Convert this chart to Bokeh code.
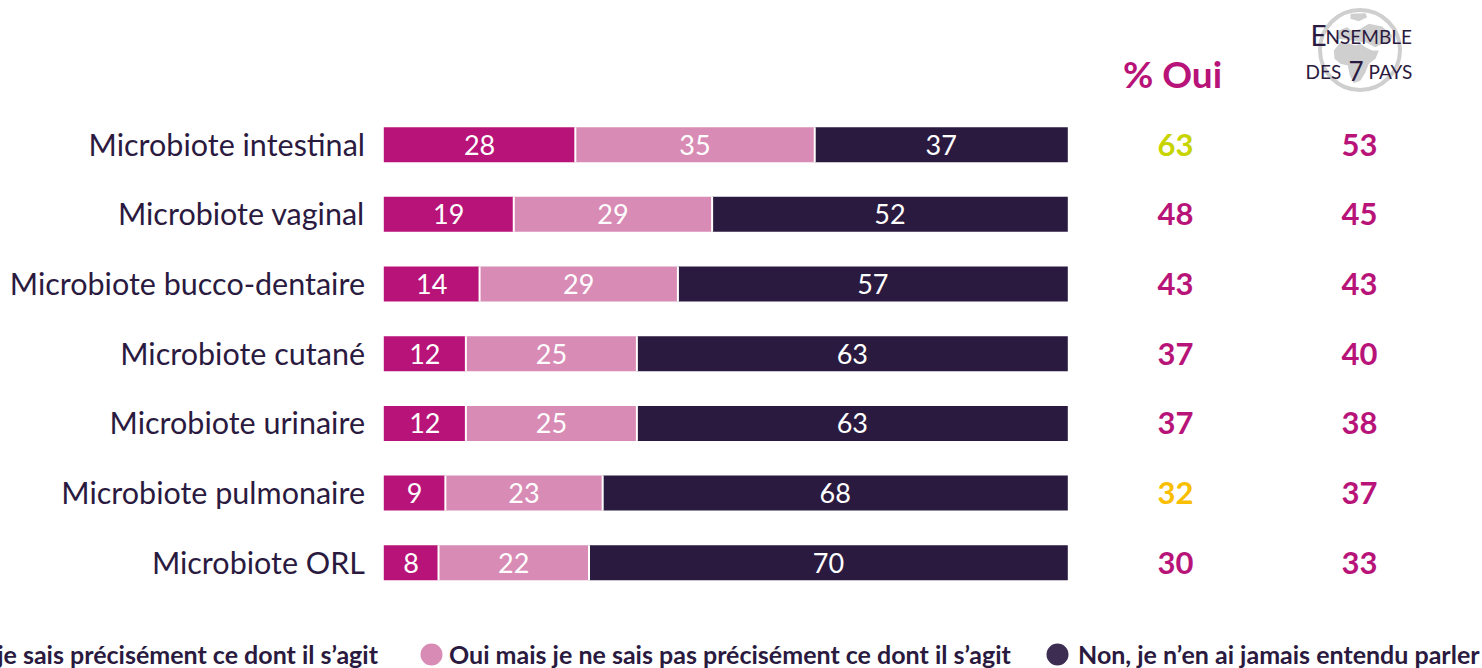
from bokeh.plotting import figure
from bokeh.models import Range1d, Label, Legend, LegendItem, ColumnDataSource
from bokeh.core.properties import value
from bokeh.embed import file_html
from bokeh.resources import INLINE

categories = ["Microbiote intestinal", "Microbiote vaginal", "Microbiote bucco-dentaire",
              "Microbiote cutané", "Microbiote urinaire", "Microbiote pulmonaire", "Microbiote ORL"]
oui_precis = [28, 19, 14, 12, 12, 9, 8]
oui_vague = [35, 29, 29, 25, 25, 23, 22]
non = [37, 52, 57, 63, 63, 68, 70]
pct_oui = [63, 48, 43, 37, 37, 32, 30]
ensemble = [53, 45, 43, 40, 38, 37, 33]
legend_labels = ["Oui et je sais précisément ce dont il s’agit",
                 "Oui mais je ne sais pas précisément ce dont il s’agit",
                 "Non, je n’en ai jamais entendu parler"]

MAGENTA, PINK, DARK, DARKDOT = "#B81378", "#D88BB5", "#2B1A40", "#3E2D52"
LIME, AMBER, GREY = "#C8D400", "#F9BE00", "#CFCFCF"
FONT = "Lato"
pct_colors = [LIME, MAGENTA, MAGENTA, MAGENTA, MAGENTA, AMBER, MAGENTA]

W, H = 1482, 668
LEFT = 383.3
PXU = 6.84
ROW = 69.67
Y0 = 144.2
p = figure(width=W, height=H, output_backend="svg", toolbar_location=None,
           x_range=Range1d(-LEFT / PXU, (W - LEFT) / PXU),
           y_range=Range1d((H - Y0) / ROW, -Y0 / ROW),
           min_border_left=0, min_border_right=0, min_border_top=0, min_border_bottom=0,
           outline_line_color=None, background_fill_color="white",
           border_fill_color=None)
p.grid.visible = False
p.axis.visible = False
rows = list(range(len(categories)))

def sx(px):
    return (px - LEFT) / PXU

def sy(py):
    return (py - Y0) / ROW

# globe behind the column heading
land = [
    [(70, 150), (90, 125), (115, 128), (135, 135), (150, 130), (165, 140), (185, 150), (205, 150), (195, 175), (175, 190),
     (165, 215), (150, 240), (130, 248), (118, 225), (112, 195), (90, 190), (72, 175)],
    [(75, 115), (85, 90), (110, 80), (125, 92), (150, 85), (175, 70), (215, 78), (245, 105), (240, 125), (215, 130), (195, 140),
     (165, 125), (135, 122), (110, 118)],
    [(120, 40), (165, 38), (170, 50), (145, 62), (120, 55)],
]
p.patches(xs=[[sx(1310 + a / 3) for a, b in poly] for poly in land],
          ys=[[sy(b / 3) for a, b in poly] for poly in land],
          fill_color=GREY, line_color=None)
p.scatter(x=[sx(1359.5)], y=[sy(49.5)], size=80, marker="circle", fill_color=None,
          line_color=GREY, line_width=4)

src = ColumnDataSource(dict(row=rows, cat=categories, a=oui_precis, b=oui_vague, c=non,
                            ab=[x + y for x, y in zip(oui_precis, oui_vague)],
                            pct=[str(v) for v in pct_oui], ens=[str(v) for v in ensemble],
                            pc=pct_colors,
                            xa=[v / 2 for v in oui_precis],
                            xb=[x + y / 2 for x, y in zip(oui_precis, oui_vague)],
                            xc=[100 - v / 2 for v in non],
                            la=[str(v) for v in oui_precis], lb=[str(v) for v in oui_vague],
                            lc=[str(v) for v in non],
                            xl=[sx(364.5)] * 7, xp=[sx(1175)] * 7, xe=[sx(1359)] * 7))

BH = 35 / ROW
p.hbar(y="row", left=0, right="a", height=BH, color=MAGENTA, line_color=None, source=src)
p.hbar(y="row", left="a", right="ab", height=BH, color=PINK, line_color=None, source=src)
p.hbar(y="row", left="ab", right=100, height=BH, color=DARK, line_color=None, source=src)
for k in ("a", "ab"):
    p.rect(x=k, y="row", width=2 / PXU, height=BH, color="white", line_color=None, source=src)

p.text(x="xl", y="row", text="cat", source=src, text_color=DARK, text_align="right",
       text_baseline="middle", text_font=value(FONT), text_font_size="30.5px", y_offset=-1)
for xk, tk in (("xa", "la"), ("xb", "lb"), ("xc", "lc")):
    p.text(x=xk, y="row", text=tk, source=src, text_color="white", text_align="center",
           text_baseline="middle", text_font=value(FONT), text_font_size="27px")
p.text(x="xp", y="row", text="pct", source=src, text_color="pc", text_align="center",
       text_baseline="middle", text_font=value(FONT), text_font_size="31px", text_font_style="bold")
p.text(x="xe", y="row", text="ens", source=src, text_color=MAGENTA, text_align="center",
       text_baseline="middle", text_font=value(FONT), text_font_size="31px", text_font_style="bold")

def lab(x, y, text, size, color, align="left", style="normal"):
    p.add_layout(Label(x=x, y=H - y, x_units="screen", y_units="screen", text=text,
                       text_font=FONT, text_font_size=f"{size}px", text_color=color,
                       text_align=align, text_baseline="middle", text_font_style=style))

lab(1172, 73, "% Oui", 37, MAGENTA, "center", "bold")
lab(1310, 34, "E", 28, DARK)
lab(1325, 36, "NSEMBLE", 19, DARK)
lab(1305, 71, "DES", 19, DARK)
lab(1348, 70, "7", 26, DARK)
lab(1368, 71, "PAYS", 19, DARK)

# legend: one keyed entry each. The key is 0.4 * its box wide, the outline makes up the rest of the dot.
BOX = 30
spec = [(legend_labels[0], MAGENTA, -96, 18), (legend_labels[1], PINK, 431, 18), (legend_labels[2], DARKDOT, 1057, 21)]
for lbl, col, cx, gap in spec:
    r = p.scatter(x=[float("nan")], y=[0], size=22, fill_color=col, line_color=col, line_width=10)
    lg = Legend(items=[LegendItem(label=lbl, renderers=[r])], location=(cx - BOX / 2, H - 654 - BOX / 2),
                background_fill_alpha=0, border_line_color=None, padding=0, margin=0,
                glyph_width=BOX, glyph_height=BOX, label_standoff=int(gap - BOX / 2),
                label_height=24, label_text_font=FONT, label_text_font_size="25px",
                label_text_color=DARK, label_text_font_style="bold", orientation="horizontal")
    p.add_layout(lg, "center")

open("out.html", "w").write(file_html(p, INLINE))
